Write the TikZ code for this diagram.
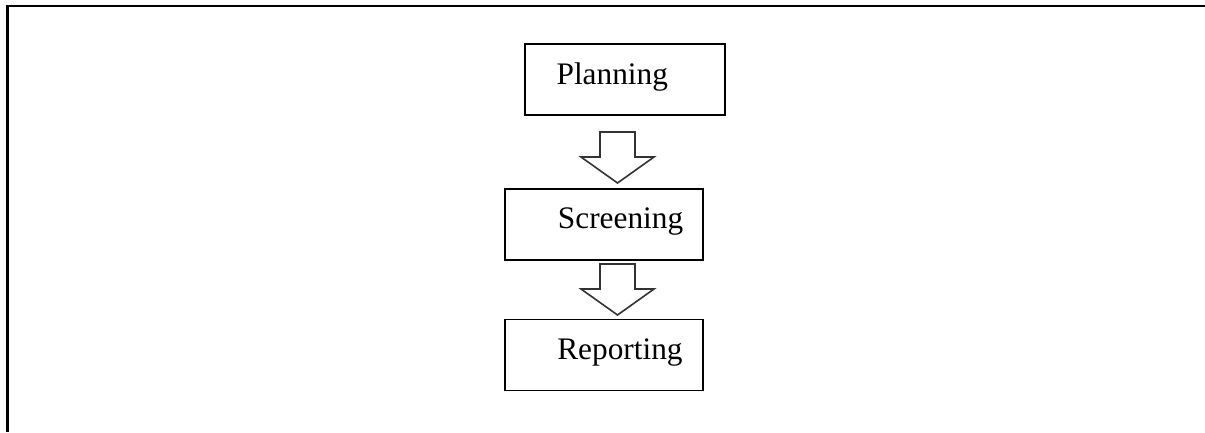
\documentclass[tikz,border=0pt]{standalone}
\usepackage{fontspec}
\setmainfont{Liberation Serif}
\usetikzlibrary{positioning}

\tikzset{
  stagebox/.style={draw, line width=1pt, inner sep=0pt, minimum height=53.25pt},
  stagetext/.style={inner sep=0pt, yshift=2pt, font=\fontsize{23.5}{28}\selectfont},
  flowarrow/.pic={
    \draw[line width=1.2pt, draw=black!80, line join=miter, fill=white]
      (-17.5,0) -- (17.5,0) -- (17.5,25) -- (36.5,25) -- (0,51)
      -- (-36.5,25) -- (-17.5,25) -- cycle;
  }
}

\begin{document}
\begin{tikzpicture}[x=0.75pt, y=-0.75pt]
  \useasboundingbox (0,0) rectangle (1205,432);
  % page frame (only top and left edge visible)
  \draw[line width=1.6pt] (1205,6) -- (7.5,6) -- (7.5,432);

  \node[stagebox, minimum width=150pt] (plan) at (625,79.5) {};
  \node[stagebox, minimum width=148.5pt] (screen) at (604,224.5) {};
  \node[stagebox, minimum width=148.5pt] (report) at (604,355) {};

  \node[stagetext, right=24pt of plan.west] (plantext) {Planning};
  \node[stagetext, right=40pt of screen.west] (screentext) {Screening};
  \node[stagetext, right=39.5pt of report.west] (reporttext) {Reporting};

  \pic at (617.5,132) {flowarrow};
  \pic at (617.5,264) {flowarrow};
\end{tikzpicture}
\end{document}
